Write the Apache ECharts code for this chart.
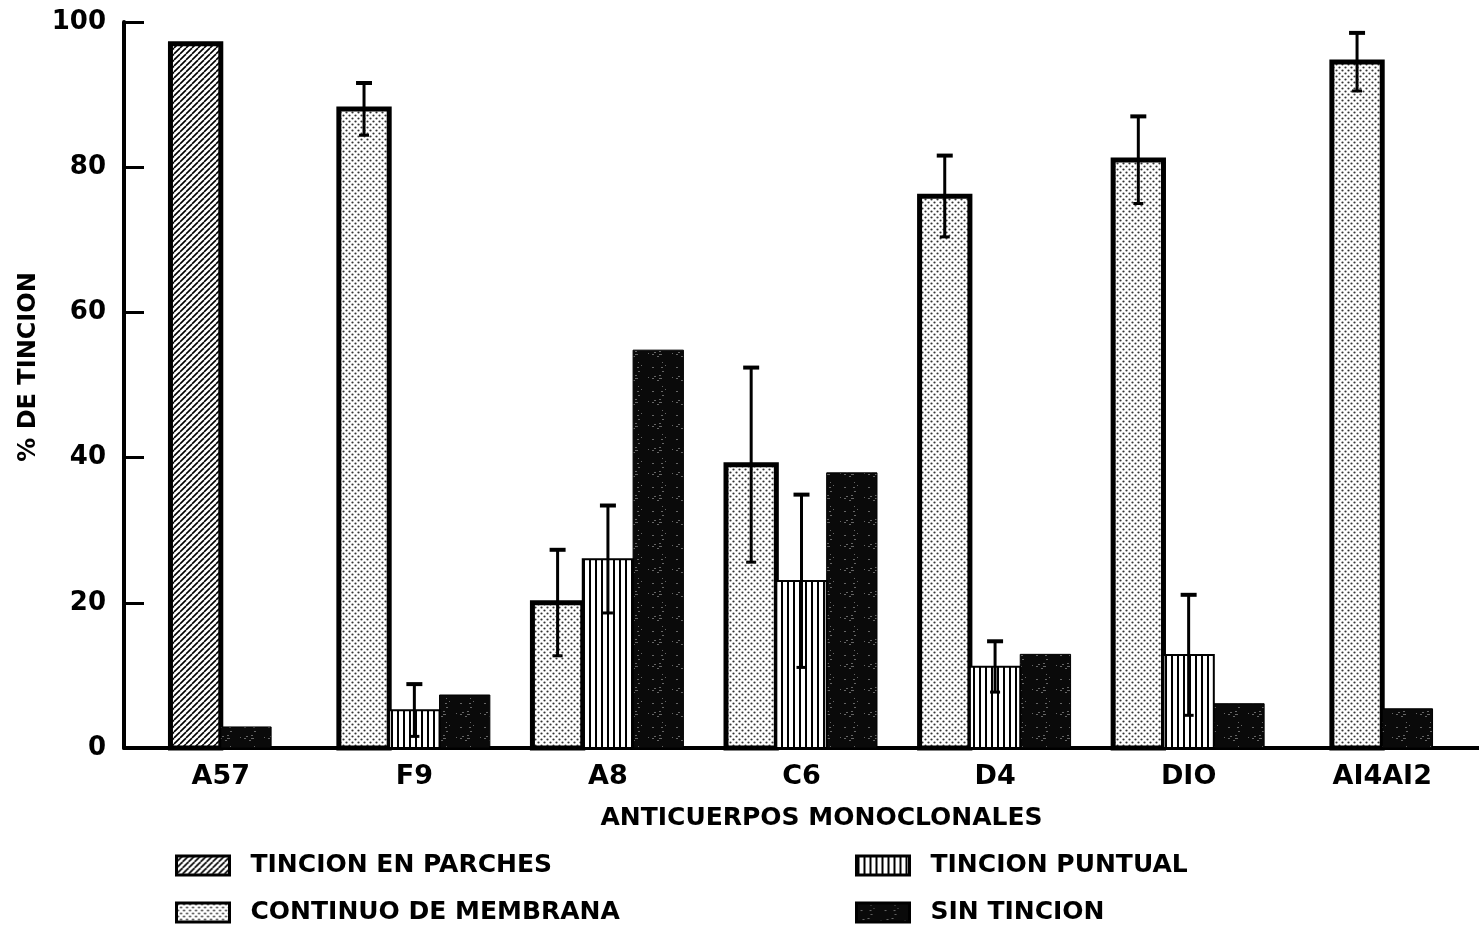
<!DOCTYPE html>
<html>
<head>
<meta charset="utf-8">
<script src="https://cdn.jsdelivr.net/npm/echarts@6/dist/echarts.min.js"></script>
<style>
  html, body { margin: 0; padding: 0; background: #fff; }
  #chart { width: 1479px; height: 926px; }
</style>
</head>
<body>
<div id="chart"></div>
<script>
// datos
const categories = ['A57', 'F9', 'A8', 'C6', 'D4', 'DIO', 'AI4AI2'];
const parches = [97, null, null, null, null, null, null];
const continuo = [null, 88, 20, 39, 76, 81, 94.5];
const continuoErr = [null, 3.6, 7.3, 13.4, 5.6, 6, 4];
const puntual = [null, 5.2, 26, 23, 11.2, 12.8, null];
const puntualErr = [null, 3.6, 7.4, 11.9, 3.5, 8.3, null];
const sinTincion = [2.9, 7.3, 54.8, 37.9, 12.9, 6.1, 5.4];
const yTicks = [0, 20, 40, 60, 80, 100];

const FONT = 'DejaVu Sans';

// texturas tipo trama
function makePattern(kind) {
    const c = document.createElement('canvas');
    const s = kind === 'noise' ? 24 : 6;
    c.width = s; c.height = s;
    const g = c.getContext('2d');
    if (kind === 'noise') {
        g.fillStyle = '#0a0a0a';
        g.fillRect(0, 0, s, s);
        g.fillStyle = '#666';
        for (let i = 0; i < 14; i++) {
            const h = Math.abs(Math.sin(i * 12.9898 + 78.233) * 43758.5453) % 1;
            const k = Math.abs(Math.sin(i * 4.1414 + 3.7) * 24634.634) % 1;
            g.fillRect(Math.floor(h * s), Math.floor(k * s), 1 + (i % 2), 1);
        }
        return { image: c, repeat: 'repeat' };
    }
    g.fillStyle = '#fff';
    g.fillRect(0, 0, s, s);
    g.fillStyle = '#000';
    g.strokeStyle = '#000';
    if (kind === 'diag') {
        g.lineWidth = 1.6;
        for (let o = -s; o <= s * 2; o += s) {
            g.beginPath();
            g.moveTo(o, s);
            g.lineTo(o + s, 0);
            g.stroke();
        }
    } else if (kind === 'dots') {
        g.fillStyle = '#333';
        g.beginPath(); g.arc(1.5, 1.5, 1.1, 0, Math.PI * 2); g.fill();
        g.beginPath(); g.arc(4.5, 4.5, 1.1, 0, Math.PI * 2); g.fill();
    } else if (kind === 'vert') {
        g.fillRect(1, 0, 2, s);
    }
    return { image: c, repeat: 'repeat' };
}

const styles = {
    'TINCION EN PARCHES': { fill: makePattern('diag'), lw: 5 },
    'CONTINUO DE MEMBRANA': { fill: makePattern('dots'), lw: 5 },
    'TINCION PUNTUAL': { fill: makePattern('vert'), lw: 2 },
    'SIN TINCION': { fill: makePattern('noise'), lw: 1 }
};

const seriesList = [
    { name: 'TINCION EN PARCHES', values: parches, errs: null },
    { name: 'CONTINUO DE MEMBRANA', values: continuo, errs: continuoErr },
    { name: 'TINCION PUNTUAL', values: puntual, errs: puntualErr },
    { name: 'SIN TINCION', values: sinTincion, errs: null }
];

function renderFor(sIdx) {
    return function (params, api) {
        const i = api.value(0);
        const v = api.value(1);
        const e = api.value(2);
        const present = [];
        seriesList.forEach(function (s, k) { if (s.values[i] != null) present.push(k); });
        const rank = present.indexOf(sIdx);
        const n = present.length;
        const w = api.size([1, 0])[0] * 0.26;
        const base = api.coord([i, 0]);
        const top = api.coord([i, v]);
        const x = base[0] - n * w / 2 + rank * w;
        const st = styles[seriesList[sIdx].name];
        const children = [{
            type: 'rect',
            shape: { x: x, y: top[1], width: w, height: base[1] - top[1] },
            style: { fill: st.fill, stroke: '#000', lineWidth: st.lw }
        }];
        if (e > 0) {
            const cx = x + w / 2;
            const yHi = api.coord([i, v + e])[1];
            const yLo = api.coord([i, v - e])[1];
            children.push(
                { type: 'line', shape: { x1: cx, y1: yHi, x2: cx, y2: yLo }, style: { stroke: '#000', lineWidth: 3 } },
                { type: 'line', shape: { x1: cx - 8, y1: yHi, x2: cx + 8, y2: yHi }, style: { stroke: '#000', lineWidth: 4 } },
                { type: 'line', shape: { x1: cx - 5, y1: yLo, x2: cx + 5, y2: yLo }, style: { stroke: '#000', lineWidth: 3 } }
            );
        }
        return { type: 'group', children: children };
    };
}

const series = seriesList.map(function (s, k) {
    const data = [];
    s.values.forEach(function (v, i) {
        if (v != null) data.push([i, v, s.errs && s.errs[i] != null ? s.errs[i] : 0]);
    });
    return {
        name: s.name,
        type: 'custom',
        renderItem: renderFor(k),
        encode: { x: 0, y: 1 },
        itemStyle: { color: styles[s.name].fill, borderColor: '#000', borderWidth: 3 },
        data: data,
        z: k === 2 ? 3 : 2
    };
});

function legendItem(name) {
    return { name: name, icon: 'rect', itemStyle: { color: styles[name].fill, borderColor: '#000', borderWidth: 3 } };
}

const legendBase = {
    orient: 'vertical',
    top: 853,
    itemWidth: 53,
    itemHeight: 19,
    itemGap: 22,
    padding: 0,
    selectedMode: false,
    textStyle: { fontFamily: FONT, fontWeight: 'bold', fontSize: 25, color: '#000', padding: [0, 0, 0, 16] }
};

const option = {
    animation: false,
    backgroundColor: '#fff',
    grid: { left: 124, top: 22, width: 1370, bottom: 178 },
    legend: [
        Object.assign({}, legendBase, { left: 175, data: [legendItem('TINCION EN PARCHES'), legendItem('CONTINUO DE MEMBRANA')] }),
        Object.assign({}, legendBase, { left: 855, data: [legendItem('TINCION PUNTUAL'), legendItem('SIN TINCION')] })
    ],
    xAxis: {
        type: 'category',
        data: categories,
        name: 'ANTICUERPOS MONOCLONALES',
        nameLocation: 'middle',
        nameGap: 58,
        nameTextStyle: { fontFamily: FONT, fontWeight: 'bold', fontSize: 25, color: '#000', padding: [0, 0, 0, 40] },
        axisLine: { lineStyle: { color: '#000', width: 4 } },
        axisTick: { show: false },
        axisLabel: { fontFamily: FONT, fontWeight: 'bold', fontSize: 27, color: '#000', margin: 15 },
        splitLine: { show: false }
    },
    yAxis: {
        type: 'value',
        min: yTicks[0],
        max: yTicks[yTicks.length - 1],
        interval: 20,
        name: '% DE TINCION',
        nameLocation: 'middle',
        nameRotate: 90,
        nameGap: 82,
        nameTextStyle: { fontFamily: FONT, fontWeight: 'bold', fontSize: 24, color: '#000', padding: [0, 0, 0, 36] },
        axisLine: { show: true, lineStyle: { color: '#000', width: 4 } },
        axisTick: { show: true, inside: true, length: 20, lineStyle: { color: '#000', width: 3 } },
        axisLabel: { fontFamily: FONT, fontWeight: 'bold', fontSize: 26, color: '#000', margin: 18 },
        splitLine: { show: false }
    },
    series: series
};

const chart = echarts.init(document.getElementById('chart'));
chart.setOption(option);
</script>
</body>
</html>
